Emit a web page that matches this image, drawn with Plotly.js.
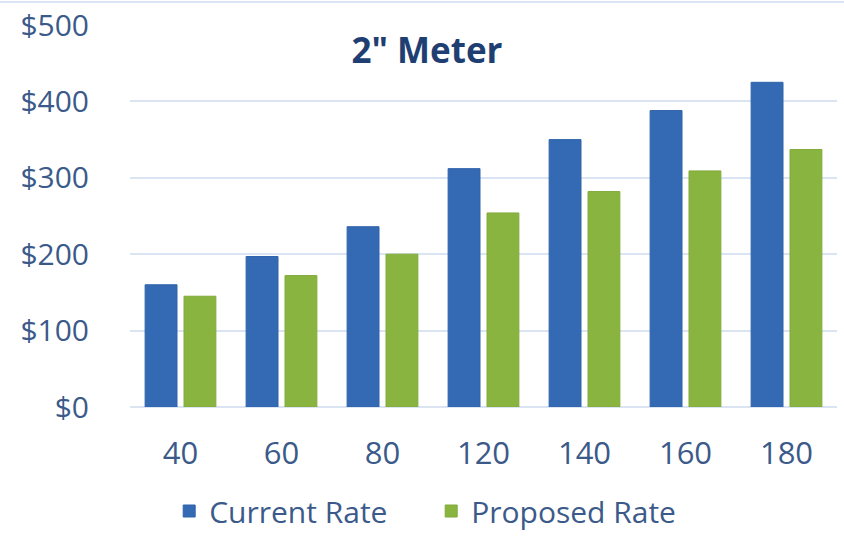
<!DOCTYPE html>
<html>
<head>
<meta charset="utf-8">
<script src="https://cdn.plot.ly/plotly-3.0.1.min.js"></script>
<style>html,body{margin:0;padding:0;background:#fff;}#chart{width:844px;height:537px;}</style>
</head>
<body>
<div id="chart"></div>
<script>
const categories = ["40", "60", "80", "120", "140", "160", "180"];
const currentRate = [160, 197, 236, 312, 350, 388, 425];
const proposedRate = [145, 172, 200, 254, 282, 309, 337];
const yTickVals = [0, 100, 200, 300, 400, 500];
const yTickText = ["$0", "$100", "$200", "$300", "$400", "$500"];

const font = "'Open Sans', sans-serif";
const textColor = "#3b5a8a";

const traces = [
  {type: "bar", name: "Current Rate", x: categories, y: currentRate,
   marker: {color: "#3469b3", line: {color: "#3064ab", width: 1}}},
  {type: "bar", name: "Proposed Rate", x: categories, y: proposedRate,
   marker: {color: "#8ab440", line: {color: "#82ab3a", width: 1}}}
];

const layout = {
  width: 844, height: 537,
  margin: {l: 130, r: 7, t: 25, b: 130},
  paper_bgcolor: "#ffffff", plot_bgcolor: "#ffffff",
  barmode: "group", bargap: 0.23, bargroupgap: 0.18,
  title: {text: "<b>2\" Meter</b>", font: {family: font, size: 35, color: "#1f3f73"},
          x: 0.42, xanchor: "center", xref: "paper", y: 0.905, yanchor: "middle", yref: "container",
          automargin: false},
  xaxis: {type: "category", tickfont: {family: font, size: 31, color: textColor},
          showgrid: false, showline: false, ticks: "", ticklen: 0, automargin: false,
          ticklabelstandoff: 25},
  yaxis: {range: [0, 500], tickvals: yTickVals, ticktext: yTickText,
          tickfont: {family: font, size: 30, color: textColor},
          gridcolor: "#dbe4f2", gridwidth: 2, zeroline: true, zerolinecolor: "#dbe4f2", zerolinewidth: 2,
          showline: false, ticks: "", ticklabelstandoff: 40, automargin: false},
  showlegend: true,
  legend: {orientation: "h", x: 0.426, xanchor: "center", xref: "paper",
           y: 0, yanchor: "bottom", yref: "container", entrywidth: 217,
           borderwidth: 0, bgcolor: "rgba(0,0,0,0)",
           font: {family: font, size: 30, color: textColor}, traceorder: "normal"},
  shapes: [{type: "line", xref: "paper", yref: "paper", x0: -0.2, x1: 1.02, y0: 1.06, y1: 1.06,
            line: {color: "#dbe4f2", width: 2}}]
};

Plotly.newPlot("chart", traces, layout, {displayModeBar: false, staticPlot: true});
</script>
</body>
</html>
